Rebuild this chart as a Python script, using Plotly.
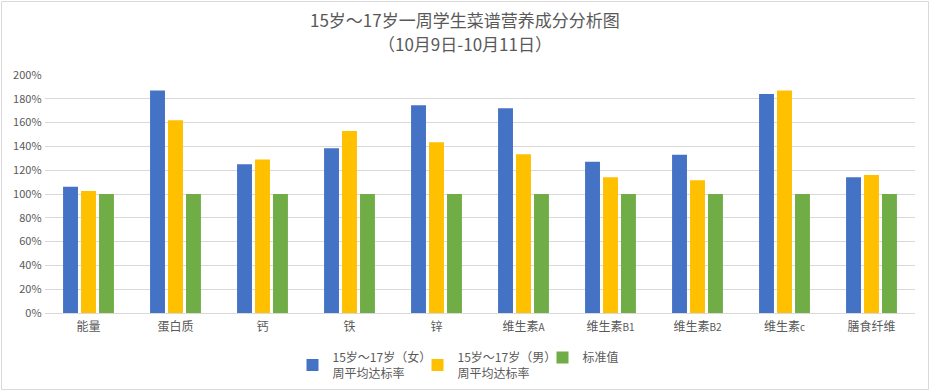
import plotly.graph_objects as go

categories = ["能量", "蛋白质", "钙", "铁", "锌", "维生素A", "维生素B1", "维生素B2", "维生素c", "膳食纤维"]
tick_labels = ["能量", "蛋白质", "钙", "铁", "锌",
               "维生素<span style='font-size:10px'>A</span>",
               "维生素<span style='font-size:10px'>B1</span>",
               "维生素<span style='font-size:10px'>B2</span>",
               "维生素<span style='font-size:10px'>c</span>",
               "膳食纤维"]
female = [1.06, 1.87, 1.25, 1.385, 1.745, 1.72, 1.27, 1.33, 1.84, 1.14]
male = [1.025, 1.62, 1.29, 1.53, 1.435, 1.335, 1.14, 1.115, 1.87, 1.16]
standard = [1.0] * 10

series_names = ["15岁～17岁（女）<br>周平均达标率", "15岁～17岁（男）<br>周平均达标率", "标准值"]
colors = ["#4472C4", "#FFC000", "#70AD47"]
title_lines = ["15岁～17岁一周学生菜谱营养成分分析图", "（10月9日-10月11日）"]

font_family = "Noto Sans CJK SC, Microsoft YaHei, sans-serif"
gray = "#595959"

W, H = 930, 392
L, R, T, B = 45, 15, 75, 79
pw, ph = W - L - R, H - T - B

fig = go.Figure()
for name, vals, c in zip(series_names, [female, male, standard], colors):
    fig.add_trace(go.Bar(x=categories, y=vals, name=name, marker=dict(color=c, line=dict(width=0))))

fig.update_layout(
    width=W, height=H,
    margin=dict(l=L, r=R, t=T, b=B, autoexpand=False),
    paper_bgcolor="white", plot_bgcolor="white",
    font=dict(family=font_family, color=gray, size=12),
    barmode="group", bargap=0.38, bargroupgap=0.17,
    legend=dict(orientation="h", x=0.5, xanchor="center", y=-30 / ph, yanchor="top",
                font=dict(size=12, color=gray), itemwidth=30, traceorder="normal",
                bgcolor="rgba(0,0,0,0)", tracegroupgap=0, entrywidth=80),
    shapes=[dict(type="rect", xref="paper", yref="paper",
                 x0=-(L - 1.5) / pw, x1=1 + (R - 1.5) / pw, y0=-(B - 2.5) / ph, y1=1 + (T - 1.5) / ph,
                 line=dict(color="#D9D9D9", width=1), fillcolor="rgba(0,0,0,0)", layer="below")],
    annotations=[
        dict(text=title_lines[0], xref="paper", yref="paper", x=(465 - L) / pw, y=1 + (T - 20) / ph,
             xanchor="center", yanchor="middle", showarrow=False,
             font=dict(size=17, color=gray, family=font_family)),
        dict(text=title_lines[1], xref="paper", yref="paper", x=(465 - L) / pw, y=1 + (T - 43) / ph,
             xanchor="center", yanchor="middle", showarrow=False,
             font=dict(size=17, color=gray, family=font_family)),
    ],
)
fig.update_xaxes(tickvals=categories, ticktext=tick_labels, showline=False, ticks="",
                 tickfont=dict(size=12, color=gray), ticklabelstandoff=5)
fig.update_yaxes(range=[0, 2.0], dtick=0.2, tickformat=".0%", showgrid=True, gridcolor="#D9D9D9",
                 gridwidth=1, zeroline=True, zerolinecolor="#D9D9D9", zerolinewidth=1,
                 tickfont=dict(size=11, color=gray), ticksuffix=" ")

fig.write_html("out.html", config={"displayModeBar": False},
               post_script="document.body.style.margin='0';document.body.style.overflow='hidden';")
